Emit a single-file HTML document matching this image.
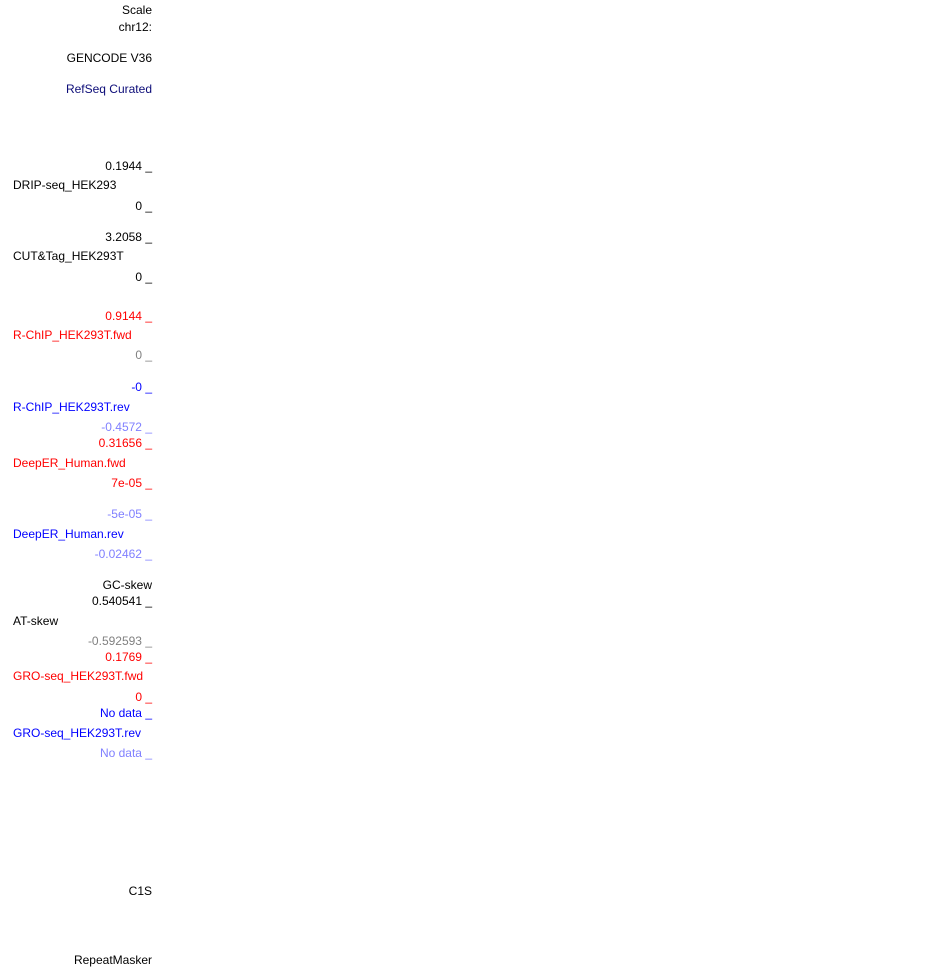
<!DOCTYPE html>
<html><head><meta charset="utf-8"><style>
body{margin:0;width:950px;height:968px;background:#fff;position:relative;overflow:hidden;font-family:"Liberation Sans",sans-serif;font-size:12px}
.r{position:absolute;right:798px;line-height:14px;white-space:pre;text-align:right}
.l{position:absolute;left:13px;line-height:14px;white-space:pre}
.k{color:#000}.red{color:#f00}.blu{color:#00f}.lb{color:#8080ff}.gr{color:#808080}.nv{color:#0c0c78}
</style></head><body>
<div class="r k" style="top:3px">Scale</div>
<div class="r k" style="top:20px">chr12:</div>
<div class="r k" style="top:51px">GENCODE V36</div>
<div class="r nv" style="top:82px">RefSeq Curated</div>
<div class="r k" style="top:159px">0.1944 _</div>
<div class="l k" style="top:178px">DRIP-seq_HEK293</div>
<div class="r k" style="top:199px">0 _</div>
<div class="r k" style="top:230px">3.2058 _</div>
<div class="l k" style="top:249px">CUT&amp;Tag_HEK293T</div>
<div class="r k" style="top:270px">0 _</div>
<div class="r red" style="top:309px">0.9144 _</div>
<div class="l red" style="top:328px">R-ChIP_HEK293T.fwd</div>
<div class="r gr" style="top:348px">0 _</div>
<div class="r blu" style="top:380px">-0 _</div>
<div class="l blu" style="top:400px">R-ChIP_HEK293T.rev</div>
<div class="r lb" style="top:420px">-0.4572 _</div>
<div class="r red" style="top:436px">0.31656 _</div>
<div class="l red" style="top:456px">DeepER_Human.fwd</div>
<div class="r red" style="top:476px">7e-05 _</div>
<div class="r lb" style="top:507px">-5e-05 _</div>
<div class="l blu" style="top:527px">DeepER_Human.rev</div>
<div class="r lb" style="top:547px">-0.02462 _</div>
<div class="r k" style="top:578px">GC-skew</div>
<div class="r k" style="top:594px">0.540541 _</div>
<div class="l k" style="top:614px">AT-skew</div>
<div class="r gr" style="top:634px">-0.592593 _</div>
<div class="r red" style="top:650px">0.1769 _</div>
<div class="l red" style="top:669px">GRO-seq_HEK293T.fwd</div>
<div class="r red" style="top:690px">0 _</div>
<div class="r blu" style="top:706px">No data _</div>
<div class="l blu" style="top:726px">GRO-seq_HEK293T.rev</div>
<div class="r lb" style="top:746px">No data _</div>
<div class="r k" style="top:884px">C1S</div>
<div class="r k" style="top:953px">RepeatMasker</div>
</body></html>
